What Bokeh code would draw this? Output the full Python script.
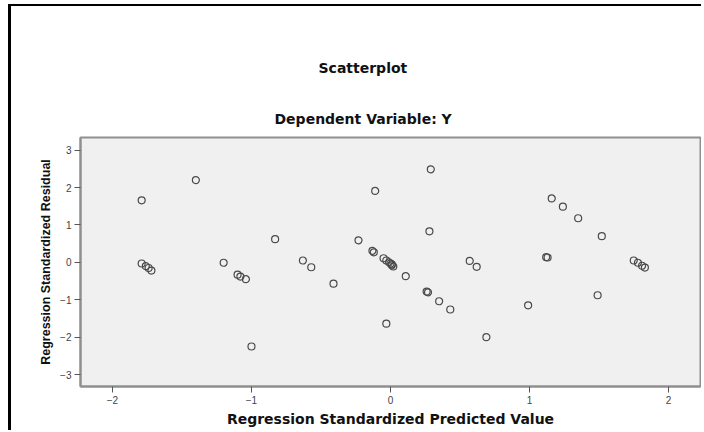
from bokeh.plotting import figure
from bokeh.models import Title, FixedTicker, Range1d
from bokeh.embed import file_html
from bokeh.resources import INLINE

# ---- data ----
title_main = "Scatterplot"
title_sub = "Dependent Variable: Y"
x_label = "Regression Standardized Predicted Value"
y_label = "Regression Standardized Residual"

x_ticks = [-2, -1, 0, 1, 2]
y_ticks = [-3, -2, -1, 0, 1, 2, 3]

pred = [-1.79, -1.40, -0.83, -1.79, -1.76, -1.74, -1.72, -1.20, -1.10, -1.08,
        -1.04, -1.00, -0.63, -0.57, -0.41, -0.23, -0.11, 0.29, 0.28,
        -0.13, -0.12, -0.05, -0.03, -0.01, 0.00, 0.01, 0.01, 0.02,
        0.11, -0.03, 0.26, 0.27, 0.35, 0.43, 0.69, 0.57, 0.62, 0.99,
        1.12, 1.13, 1.16, 1.24, 1.35, 1.52, 1.49, 1.75, 1.78, 1.81, 1.83]
resid = [1.66, 2.20, 0.62, -0.03, -0.10, -0.15, -0.22, -0.01, -0.33, -0.38,
         -0.45, -2.25, 0.05, -0.13, -0.57, 0.59, 1.91, 2.49, 0.83,
         0.31, 0.27, 0.11, 0.05, 0.00, -0.03, -0.05, -0.08, -0.11,
         -0.37, -1.64, -0.78, -0.80, -1.04, -1.26, -2.00, 0.04, -0.12, -1.15,
         0.14, 0.13, 1.71, 1.49, 1.18, 0.70, -0.88, 0.05, -0.01, -0.09, -0.14]

p = figure(width=693, height=426, output_backend="svg", toolbar_location=None,
           x_range=Range1d(-2.23, 2.23), y_range=Range1d(-3.32, 3.34),
           min_border_left=69, min_border_right=4, min_border_top=131,
           min_border_bottom=46)
p.styles = {"margin-left": "8px", "margin-top": "4px",
            "border-left": "3px solid black", "border-top": "2px solid black"}
p.background_fill_color = "#f0f0f0"
p.border_fill_color = "white"
p.grid.visible = False
p.outline_line_color = "#8f8f8f"
p.outline_line_width = 2

for ax in (p.xaxis, p.yaxis):
    ax.axis_line_color = "#8f8f8f"
    ax.axis_line_width = 2
    ax.major_tick_line_color = "#555555"
    ax.major_tick_out = 6
    ax.major_tick_in = 0
    ax.minor_tick_line_color = None
    ax.major_label_text_font_size = "10px"
    ax.major_label_text_color = "#444444"
    ax.major_label_text_font = "Liberation Sans"
    ax.axis_label_text_font_style = "bold"
    ax.axis_label_text_color = "#111111"

p.xaxis.ticker = FixedTicker(ticks=x_ticks)
p.yaxis.ticker = FixedTicker(ticks=y_ticks)
p.xaxis.axis_label = x_label
p.yaxis.axis_label = y_label
p.xaxis.axis_label_text_font = "DejaVu Sans"
p.xaxis.axis_label_text_font_size = "14px"
p.xaxis.axis_label_standoff = 4
p.yaxis.axis_label_text_font = "Liberation Sans"
p.yaxis.axis_label_text_font_size = "12.5px"
p.yaxis.axis_label_standoff = 4
p.xaxis.major_label_standoff = 3
p.yaxis.major_label_standoff = 3

p.scatter(pred, resid, marker="circle", size=7, fill_color=None,
          line_color="#4a4a4a", line_width=1.2)

p.add_layout(Title(text=title_sub, align="left", offset=194, standoff=22,
                   text_font="DejaVu Sans", text_font_style="bold",
                   text_font_size="14px", text_color="#111111"), "above")
p.add_layout(Title(text=title_main, align="left", offset=238, standoff=44,
                   text_font="DejaVu Sans", text_font_style="bold",
                   text_font_size="14px", text_color="#111111"), "above")

open("out.html", "w").write(file_html(p, INLINE))
